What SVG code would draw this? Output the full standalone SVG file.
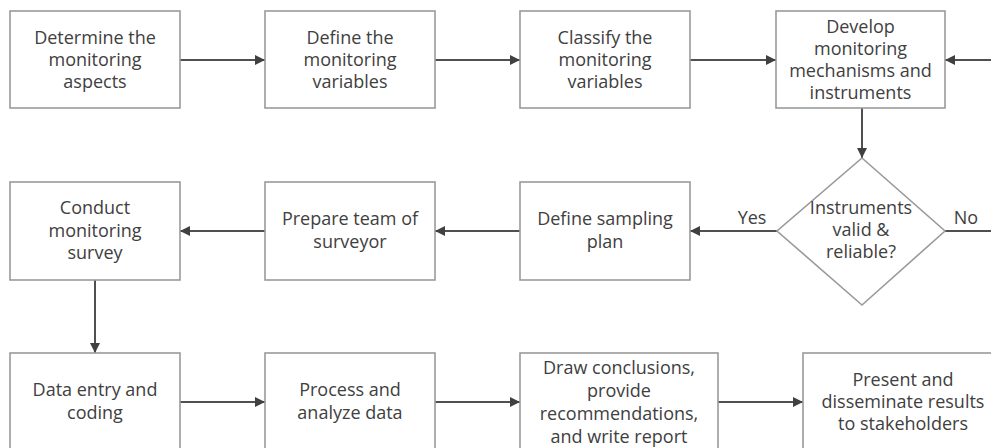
<svg xmlns="http://www.w3.org/2000/svg" width="991" height="448" viewBox="0 0 991 448">
<style>
.box{fill:#fff;stroke:#9a9a9a;stroke-width:1.6}
.t{font-family:"Open Sans","DejaVu Sans",sans-serif;font-size:18px;fill:#404040;text-anchor:middle}
.c{fill:none;stroke:#505050;stroke-width:2}
</style>
<defs>
<marker id="ah" viewBox="0 0 10 10" refX="10" refY="5" markerWidth="5.5" markerHeight="5" markerUnits="strokeWidth" orient="auto">
<path d="M0,0 L10,5 L0,10 Z" fill="#404040"/>
</marker>
</defs>
<rect width="991" height="448" fill="#fff"/>
<g id="connectors">
<line class="c" x1="180" y1="60" x2="265" y2="60" marker-end="url(#ah)"/>
<line class="c" x1="435" y1="60" x2="520" y2="60" marker-end="url(#ah)"/>
<line class="c" x1="690" y1="60" x2="776" y2="60" marker-end="url(#ah)"/>
<line class="c" x1="862" y1="108" x2="862" y2="158" marker-end="url(#ah)"/>
<line class="c" x1="777" y1="231" x2="690" y2="231" marker-end="url(#ah)"/>
<path class="c" d="M945,231 H1010 V60 H945" marker-end="url(#ah)"/>
<line class="c" x1="520" y1="231" x2="435" y2="231" marker-end="url(#ah)"/>
<line class="c" x1="265" y1="231" x2="180" y2="231" marker-end="url(#ah)"/>
<line class="c" x1="95" y1="280" x2="95" y2="353" marker-end="url(#ah)"/>
<line class="c" x1="180" y1="402" x2="265" y2="402" marker-end="url(#ah)"/>
<line class="c" x1="435" y1="402" x2="520" y2="402" marker-end="url(#ah)"/>
<line class="c" x1="718" y1="402" x2="803" y2="402" marker-end="url(#ah)"/>
<text class="t" x="752" y="224">Yes</text>
<text class="t" x="966" y="224">No</text>
</g>
<g id="n1"><rect class="box" x="10" y="11" width="170" height="97"/>
<text class="t" x="95" y="44">Determine the</text><text class="t" x="95" y="66">monitoring</text><text class="t" x="95" y="88">aspects</text></g>
<g id="n2"><rect class="box" x="265" y="11" width="170" height="97"/>
<text class="t" x="350" y="44">Define the</text><text class="t" x="350" y="66">monitoring</text><text class="t" x="350" y="88">variables</text></g>
<g id="n3"><rect class="box" x="520" y="11" width="170" height="97"/>
<text class="t" x="605" y="44">Classify the</text><text class="t" x="605" y="66">monitoring</text><text class="t" x="605" y="88">variables</text></g>
<g id="n4"><rect class="box" x="776" y="11" width="169" height="97"/>
<text class="t" x="860.5" y="33">Develop</text><text class="t" x="860.5" y="55">monitoring</text><text class="t" x="860.5" y="77">mechanisms and</text><text class="t" x="860.5" y="99">instruments</text></g>
<g id="n5"><path class="box" d="M862,158 L945,231 L862,305 L777,231 Z"/>
<text class="t" x="861" y="214">Instruments</text><text class="t" x="861" y="236">valid &amp;</text><text class="t" x="861" y="258">reliable?</text></g>
<g id="n6"><rect class="box" x="520" y="182" width="170" height="98"/>
<text class="t" x="605" y="225">Define sampling</text><text class="t" x="605" y="248">plan</text></g>
<g id="n7"><rect class="box" x="265" y="182" width="170" height="98"/>
<text class="t" x="350" y="225">Prepare team of</text><text class="t" x="350" y="248">surveyor</text></g>
<g id="n8"><rect class="box" x="10" y="182" width="170" height="98"/>
<text class="t" x="95" y="214">Conduct</text><text class="t" x="95" y="237">monitoring</text><text class="t" x="95" y="259">survey</text></g>
<g id="n9"><rect class="box" x="10" y="353" width="170" height="98"/>
<text class="t" x="95" y="396">Data entry and</text><text class="t" x="95" y="419">coding</text></g>
<g id="n10"><rect class="box" x="265" y="353" width="170" height="98"/>
<text class="t" x="350" y="396">Process and</text><text class="t" x="350" y="419">analyze data</text></g>
<g id="n11"><rect class="box" x="520" y="353" width="198" height="98"/>
<text class="t" x="619" y="374">Draw conclusions,</text><text class="t" x="619" y="397">provide</text><text class="t" x="619" y="420">recommendations,</text><text class="t" x="619" y="443">and write report</text></g>
<g id="n12"><rect class="box" x="803" y="353" width="200" height="98"/>
<text class="t" x="903" y="386">Present and</text><text class="t" x="903" y="408">disseminate results</text><text class="t" x="903" y="430">to stakeholders</text></g>
</svg>
